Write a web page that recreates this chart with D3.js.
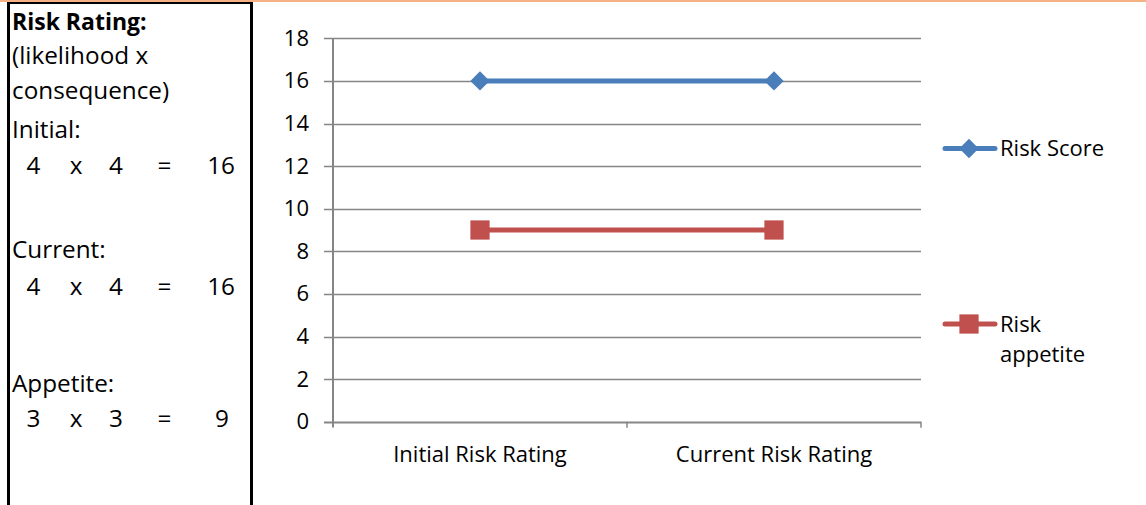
<!DOCTYPE html>
<html>
<head>
<meta charset="utf-8">
<script src="https://cdn.jsdelivr.net/npm/d3@7"></script>
<style>
  html, body { margin: 0; padding: 0; background: #fff; }
  svg { display: block; font-family: "Open Sans", sans-serif; }
</style>
</head>
<body>
<svg id="chart" width="1146" height="505"></svg>
<script>
// Risk register entry: rating breakdown on the left, score vs appetite chart on the right
const categories = ["Initial Risk Rating", "Current Risk Rating"];
const riskScore = [16, 16];
const riskAppetite = [9, 9];
const yTicks = [0, 2, 4, 6, 8, 10, 12, 14, 16, 18];

const ratingRows = [
  { label: "Initial:", likelihood: 4, consequence: 4, total: 16 },
  { label: "Current:", likelihood: 4, consequence: 4, total: 16 },
  { label: "Appetite:", likelihood: 3, consequence: 3, total: 9 }
];

const CELL_FS = 24.3;
const CHART_FS = 22;
const svg = d3.select("#chart");

// cell borders
svg.append("rect").attr("x", 0).attr("y", 0).attr("width", 1146).attr("height", 2).attr("fill", "#f4b183");
svg.append("rect").attr("x", 7).attr("y", 2).attr("width", 246).attr("height", 2).attr("fill", "#000");
svg.append("rect").attr("x", 7).attr("y", 2).attr("width", 3).attr("height", 503).attr("fill", "#000");
svg.append("rect").attr("x", 250).attr("y", 2).attr("width", 3).attr("height", 503).attr("fill", "#000");

// left text cell
const txt = svg.append("g").attr("font-size", CELL_FS).attr("fill", "#000");
txt.append("text").attr("x", 12).attr("y", 30).attr("font-weight", "bold").attr("font-size", 23).text("Risk Rating:");
txt.append("text").attr("x", 12).attr("y", 64).text("(likelihood x");
txt.append("text").attr("x", 12).attr("y", 99).text("consequence)");

const rowY = [{ lab: 138, eq: 174 }, { lab: 258, eq: 295 }, { lab: 392, eq: 427 }];
const totalRight = [235, 235, 229];
ratingRows.forEach((r, i) => {
  txt.append("text").attr("x", 12).attr("y", rowY[i].lab).text(r.label);
  const y = rowY[i].eq;
  txt.append("text").attr("x", 33.5).attr("y", y).attr("text-anchor", "middle").text(r.likelihood);
  txt.append("text").attr("x", 76).attr("y", y).attr("text-anchor", "middle").text("x");
  txt.append("text").attr("x", 116).attr("y", y).attr("text-anchor", "middle").text(r.consequence);
  txt.append("text").attr("x", 164.5).attr("y", y).attr("text-anchor", "middle").text("=");
  txt.append("text").attr("x", totalRight[i]).attr("y", y).attr("text-anchor", "end").text(r.total);
});

// chart
const plot = { left: 333, right: 921, top: 38.3, bottom: 421.7 };
const x = d3.scaleBand().domain(categories).range([plot.left, plot.right]);
const y = d3.scaleLinear().domain([0, 18]).range([plot.bottom, plot.top]);
const gridColor = "#868686";

const g = svg.append("g");

// horizontal gridlines (with short ticks left of the axis)
g.selectAll("line.grid").data(yTicks).join("line")
  .attr("x1", plot.left - 9).attr("x2", plot.right)
  .attr("y1", d => Math.round(y(d)) + 0.5).attr("y2", d => Math.round(y(d)) + 0.5)
  .attr("stroke", gridColor).attr("stroke-width", d => d === 0 ? 2 : 1.3);

// y axis line
g.append("line").attr("x1", plot.left).attr("x2", plot.left)
  .attr("y1", plot.top).attr("y2", plot.bottom + 5)
  .attr("stroke", gridColor).attr("stroke-width", 2);

// category boundary ticks
const bounds = [plot.left, plot.left + x.bandwidth(), plot.right];
g.selectAll("line.xt").data(bounds).join("line")
  .attr("x1", d => d).attr("x2", d => d)
  .attr("y1", plot.bottom).attr("y2", plot.bottom + 6)
  .attr("stroke", gridColor).attr("stroke-width", 1.5);

// y tick labels
g.selectAll("text.yl").data(yTicks).join("text")
  .attr("x", 309).attr("y", d => y(d) + 7.5)
  .attr("text-anchor", "end").attr("font-size", CHART_FS).attr("fill", "#000")
  .text(d => d);

// x labels
g.selectAll("text.xl").data(categories).join("text")
  .attr("x", d => x(d) + x.bandwidth() / 2).attr("y", 462)
  .attr("text-anchor", "middle").attr("font-size", CHART_FS).attr("fill", "#000")
  .text(d => d);

const series = [
  { name: "Risk Score", values: riskScore, color: "#4a7ebb", shape: d3.symbolDiamond2, size: 240 },
  { name: "Risk appetite", values: riskAppetite, color: "#c0504d", shape: d3.symbolSquare, size: 370 }
];

const line = d3.line().x((d, i) => x(categories[i]) + x.bandwidth() / 2).y(d => y(d));

series.forEach(s => {
  g.append("path").datum(s.values).attr("d", line)
    .attr("fill", "none").attr("stroke", s.color).attr("stroke-width", 5);
  g.selectAll(null).data(s.values).join("path")
    .attr("transform", (d, i) => `translate(${x(categories[i]) + x.bandwidth() / 2},${y(d)})`)
    .attr("d", d3.symbol(s.shape, s.size))
    .attr("fill", s.color);
});

// legend
const legendItems = [
  { s: series[0], y: 148.5, lines: ["Risk Score"] },
  { s: series[1], y: 324, lines: ["Risk", "appetite"] }
];
legendItems.forEach(it => {
  g.append("line").attr("x1", 945).attr("x2", 995).attr("y1", it.y).attr("y2", it.y)
    .attr("stroke", it.s.color).attr("stroke-width", 5).attr("stroke-linecap", "round");
  g.append("path").attr("transform", `translate(969,${it.y})`)
    .attr("d", d3.symbol(it.s.shape, it.s.size)).attr("fill", it.s.color);
  it.lines.forEach((t, j) => {
    g.append("text").attr("x", 1000).attr("y", it.y + 7.5 + j * 30)
      .attr("font-size", CHART_FS).attr("fill", "#000").text(t);
  });
});
</script>
</body>
</html>
